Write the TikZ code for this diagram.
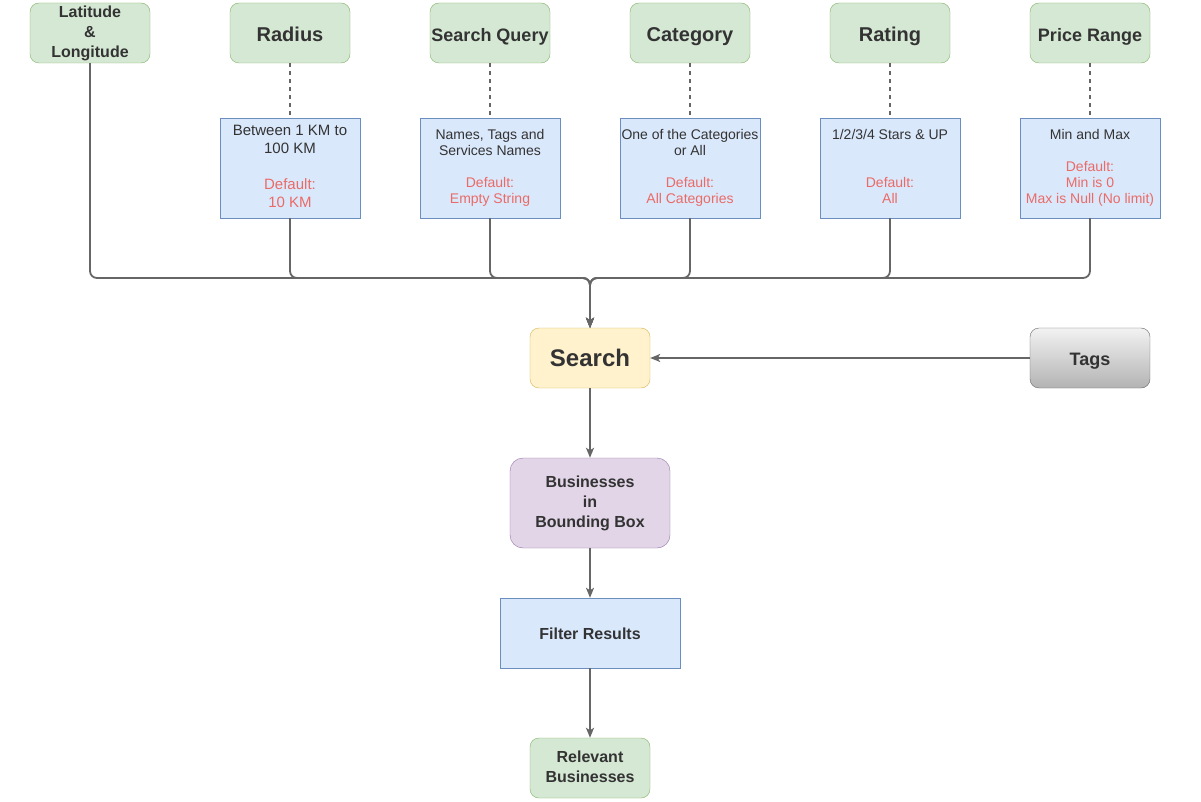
\documentclass[tikz,border=0pt]{standalone}
\usepackage{fontspec}
\setmainfont{Liberation Sans}
\usepackage{tikz}
\usetikzlibrary{shapes.geometric, arrows, arrows.meta}
\definecolor{grnfill}{HTML}{D5E8D4}
\definecolor{grnline}{HTML}{82B366}
\definecolor{bluefill}{HTML}{DAE8FC}
\definecolor{blueline}{HTML}{6C8EBF}
\definecolor{yelfill}{HTML}{FFF2CC}
\definecolor{yelline}{HTML}{D6B656}
\definecolor{purfill}{HTML}{E1D5E7}
\definecolor{purline}{HTML}{9673A6}
\definecolor{greytop}{HTML}{F2F2F2}
\definecolor{greybot}{HTML}{B3B3B3}
\definecolor{edge}{HTML}{666666}
\definecolor{txt}{HTML}{333333}
\definecolor{defred}{HTML}{EA6B66}
\newcommand{\dflt}{\color{defred}}
\newcommand{\topstrut}[1]{\rule[-.21em]{0pt}{#1}}
\newcommand{\ptstrut}[1]{\rule[-3pt]{0pt}{#1}}
\newcommand{\lstrut}{\rule[-.21em]{0pt}{1.12em}}
\tikzstyle{param} = [rectangle, rounded corners=9pt, minimum width=120pt, minimum height=60pt, text centered, align=center, inner sep=0pt, draw=grnline, fill=grnfill, text=txt, font=\bfseries\fontsize{20}{24}\selectfont, execute at begin node={\topstrut{1.32em}}, execute at end node=\lstrut]
\tikzstyle{detail} = [rectangle, minimum width=140pt, minimum height=100pt, text centered, align=center, inner sep=0pt, draw=blueline, fill=bluefill, text=txt, font=\fontsize{14}{16}\selectfont, execute at begin node={\ptstrut{19.5pt}}, execute at end node=\lstrut]
\tikzstyle{searchbox} = [rectangle, rounded corners=9pt, minimum width=120pt, minimum height=60pt, text centered, draw=yelline, fill=yelfill, text=txt, font=\bfseries\fontsize{24}{28}\selectfont, execute at begin node=\lstrut]
\tikzstyle{tagbox} = [rectangle, rounded corners=9pt, minimum width=120pt, minimum height=60pt, text centered, draw=edge, top color=greytop, bottom color=greybot, text=txt, font=\bfseries\fontsize{18}{22}\selectfont, execute at begin node={\topstrut{1.2em}}]
\tikzstyle{bboxnode} = [rectangle, rounded corners=13pt, minimum width=160pt, minimum height=90pt, text centered, align=center, draw=purline, fill=purfill, text=txt, font=\bfseries\fontsize{16}{20}\selectfont, execute at begin node={\ptstrut{18.5pt}}, execute at end node=\lstrut]
\tikzstyle{filterbox} = [rectangle, minimum width=180pt, minimum height=70pt, text centered, draw=blueline, fill=bluefill, text=txt, font=\bfseries\fontsize{16}{20}\selectfont, execute at begin node={\topstrut{1.2em}}]
\tikzstyle{arrow} = [line width=1.8pt, draw=edge, ->, >={Stealth[length=10pt, width=8pt, inset=2.5pt]}]
\tikzstyle{link} = [line width=1.8pt, draw=edge, rounded corners=7pt]
\tikzstyle{dashlink} = [line width=1.5pt, draw=edge, dash pattern=on 4pt off 4pt]

\begin{document}
\begin{tikzpicture}[x=1pt, y=-1pt, node distance=200pt]
\useasboundingbox (0,0) rectangle (1201,802);
\fill[white] (0,0) rectangle (1201,802);
						% top row of inputs
						\node (latlong) [param, font=\bfseries\fontsize{16}{20}\selectfont, execute at begin node={\ptstrut{17.6pt}}] at (90,33) {Latitude\\\&\\Longitude};
						\node (radius) [param, right of=latlong] {Radius};
						\node (query) [param, right of=radius, font=\bfseries\fontsize{18}{22}\selectfont] {Search Query};
						\node (category) [param, right of=query] {Category};
						\node (rating) [param, right of=category] {Rating};
						\node (price) [param, right of=rating, font=\bfseries\fontsize{18}{22}\selectfont] {Price Range};
						% value notes
						\node (radiusinfo) [detail, font=\fontsize{15}{18}\selectfont] at (290,168) {Between 1 KM to\\100 KM\\[18pt]\dflt Default:\\\dflt 10 KM};
						\node (queryinfo) [detail, right of=radiusinfo] {Names, Tags and\\Services Names\\[16pt]\dflt Default:\\\dflt Empty String};
						\node (categoryinfo) [detail, right of=queryinfo] {One of the Categories\\or All\\[16pt]\dflt Default:\\\dflt All Categories};
						\node (ratinginfo) [detail, right of=categoryinfo] {1/2/3/4 Stars \& UP\\[32pt]\dflt Default:\\\dflt All};
						\node (priceinfo) [detail, right of=ratinginfo] {Min and Max\\[16pt]\dflt Default:\\\dflt Min is 0\\\dflt Max is Null (No limit)};
						% main flow
						\node (search) [searchbox] at (590,358) {Search};
						\node (tags) [tagbox] at (1090,358) {Tags};
						\node (bbox) [bboxnode] at (590,503) {Businesses\\in\\Bounding Box};
						\node (filter) [filterbox] at (590,633) {Filter Results};
						\node (relevant) [param, font=\bfseries\fontsize{16}{20}\selectfont, execute at begin node={\ptstrut{18.6pt}}] at (590,768) {Relevant\\Businesses};
						\coordinate (hub) at (590,278);
						\draw [dashlink] (radius) -- (radiusinfo);
						\draw [dashlink] (query) -- (queryinfo);
						\draw [dashlink] (category) -- (categoryinfo);
						\draw [dashlink] (rating) -- (ratinginfo);
						\draw [dashlink] (price) -- (priceinfo);
						\draw [link, arrow] (latlong) |- (hub) -- (search);
						\draw [link, arrow] (radiusinfo) |- (hub) -- (search);
						\draw [link, arrow] (queryinfo) |- (hub) -- (search);
						\draw [link, arrow] (categoryinfo) |- (hub) -- (search);
						\draw [link, arrow] (ratinginfo) |- (hub) -- (search);
						\draw [link, arrow] (priceinfo) |- (hub) -- (search);
						\draw [arrow, line width=1.5pt] (tags) -- (search);
						\draw [arrow] (search) -- (bbox);
						\draw [arrow] (bbox) -- (filter);
						\draw [arrow] (filter) -- (relevant);
					\end{tikzpicture}
\end{document}
